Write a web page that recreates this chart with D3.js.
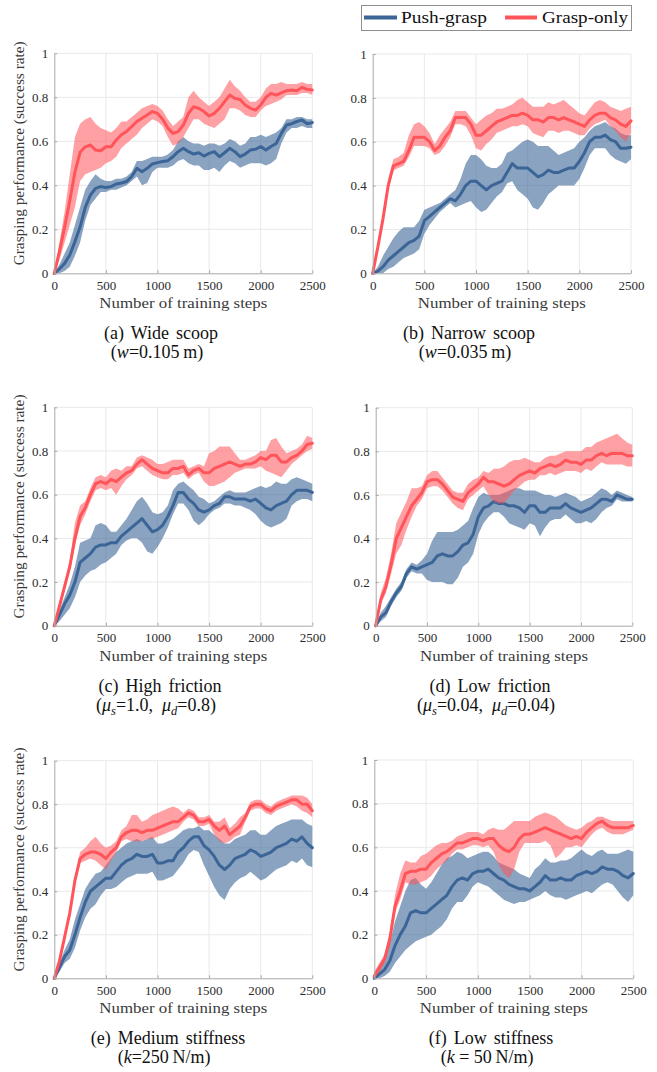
<!DOCTYPE html>
<html>
<head>
<meta charset="utf-8">
<script src="https://cdn.jsdelivr.net/npm/d3@7"></script>
<style>
  body { margin: 0; background: #fff; }
  svg { display: block; }
  text { font-family: "Liberation Serif", "Times New Roman", serif; }
</style>
</head>
<body>
<svg id="fig" width="657" height="1072"></svg>
<script>
// ---- data ---------------------------------------------------------------
// Training steps at which the success rate was sampled (every 50 steps).
const steps = d3.range(0, 2501, 50);
const xTicks = [0, 500, 1000, 1500, 2000, 2500];
const yTicks = [0, 0.2, 0.4, 0.6, 0.8, 1];
const yTickLabels = ["0", "0.2", "0.4", "0.6", "0.8", "1"];
const seriesNames = ["Push-grasp", "Grasp-only"];

// (a) Wide scoop
const aPushMean = [0,0.02,0.045,0.083,0.144,0.21,0.30,0.356,0.386,0.394,0.39,
  0.394,0.406,0.41,0.417,0.44,0.477,0.462,0.477,0.497,0.503,
  0.508,0.512,0.53,0.553,0.568,0.553,0.542,0.548,0.533,0.545,
  0.553,0.53,0.548,0.568,0.553,0.53,0.542,0.56,0.564,0.576,
  0.56,0.576,0.59,0.636,0.674,0.68,0.69,0.697,0.68,0.685];
const aPushLo = [0,0,0.01,0.03,0.08,0.14,0.24,0.31,0.34,0.37,0.37,
  0.38,0.38,0.39,0.40,0.42,0.44,0.40,0.41,0.46,0.48,
  0.48,0.48,0.49,0.51,0.52,0.50,0.49,0.49,0.47,0.47,
  0.48,0.46,0.49,0.51,0.50,0.48,0.49,0.50,0.50,0.50,
  0.49,0.50,0.52,0.59,0.64,0.66,0.66,0.67,0.66,0.66];
const aPushHi = [0,0.04,0.09,0.14,0.22,0.30,0.38,0.42,0.45,0.43,0.42,
  0.42,0.43,0.43,0.44,0.46,0.51,0.51,0.52,0.53,0.53,
  0.53,0.54,0.56,0.60,0.62,0.60,0.59,0.59,0.58,0.59,
  0.59,0.58,0.59,0.61,0.60,0.58,0.59,0.62,0.62,0.63,
  0.62,0.63,0.64,0.66,0.70,0.70,0.71,0.71,0.70,0.70];
const aGraspMean = [0,0.10,0.21,0.33,0.46,0.55,0.575,0.583,0.56,0.557,0.575,
  0.575,0.606,0.63,0.645,0.667,0.69,0.705,0.72,0.735,0.727,
  0.70,0.66,0.636,0.644,0.674,0.727,0.757,0.75,0.735,0.715,
  0.727,0.75,0.78,0.81,0.795,0.79,0.765,0.75,0.742,0.765,
  0.80,0.818,0.81,0.82,0.83,0.833,0.83,0.845,0.836,0.833];
const aGraspLo = [0,0.06,0.14,0.22,0.30,0.42,0.45,0.46,0.47,0.48,0.50,
  0.51,0.53,0.57,0.59,0.61,0.63,0.66,0.68,0.70,0.69,
  0.67,0.62,0.58,0.59,0.62,0.66,0.70,0.70,0.68,0.67,
  0.66,0.68,0.70,0.75,0.75,0.74,0.72,0.71,0.71,0.74,
  0.76,0.77,0.78,0.79,0.81,0.81,0.81,0.82,0.82,0.81];
const aGraspHi = [0,0.14,0.28,0.45,0.62,0.68,0.70,0.71,0.68,0.66,0.65,
  0.64,0.66,0.69,0.69,0.71,0.73,0.75,0.76,0.77,0.76,
  0.74,0.70,0.67,0.69,0.71,0.80,0.83,0.80,0.78,0.76,
  0.78,0.80,0.84,0.88,0.85,0.83,0.80,0.78,0.78,0.80,
  0.84,0.86,0.86,0.87,0.86,0.86,0.86,0.87,0.86,0.86];

// (b) Narrow scoop
const bPushMean = [0,0.01,0.03,0.06,0.08,0.10,0.12,0.14,0.15,0.17,0.24,
  0.26,0.28,0.30,0.32,0.34,0.33,0.36,0.40,0.42,0.42,
  0.40,0.38,0.40,0.41,0.42,0.46,0.50,0.48,0.48,0.48,
  0.46,0.44,0.45,0.47,0.46,0.46,0.47,0.48,0.48,0.51,
  0.55,0.60,0.62,0.62,0.63,0.61,0.60,0.57,0.57,0.575];
const bPushLo = [0,0,0,0.02,0.03,0.05,0.07,0.08,0.09,0.11,0.18,
  0.22,0.25,0.28,0.30,0.32,0.30,0.31,0.32,0.33,0.30,
  0.28,0.29,0.32,0.35,0.37,0.41,0.42,0.38,0.36,0.34,
  0.30,0.29,0.32,0.36,0.38,0.40,0.40,0.40,0.40,0.43,
  0.48,0.54,0.57,0.57,0.57,0.54,0.52,0.51,0.50,0.52];
const bPushHi = [0,0.03,0.08,0.12,0.16,0.19,0.21,0.21,0.21,0.24,0.29,
  0.30,0.31,0.32,0.34,0.36,0.38,0.43,0.50,0.54,0.54,
  0.52,0.49,0.48,0.48,0.50,0.55,0.56,0.58,0.60,0.61,
  0.60,0.58,0.58,0.58,0.56,0.54,0.55,0.56,0.57,0.60,
  0.62,0.65,0.67,0.68,0.69,0.67,0.66,0.64,0.63,0.63];
const bGraspMean = [0,0.12,0.25,0.40,0.49,0.50,0.51,0.56,0.62,0.62,0.62,
  0.60,0.56,0.58,0.62,0.65,0.71,0.71,0.71,0.68,0.63,
  0.63,0.65,0.67,0.69,0.70,0.71,0.72,0.72,0.73,0.72,
  0.70,0.70,0.69,0.71,0.71,0.70,0.71,0.70,0.69,0.68,
  0.67,0.70,0.72,0.73,0.73,0.71,0.70,0.68,0.67,0.695];
const bGraspLo = [0,0.10,0.23,0.38,0.47,0.48,0.49,0.53,0.58,0.58,0.58,
  0.57,0.54,0.55,0.58,0.62,0.68,0.68,0.67,0.63,0.57,
  0.56,0.59,0.61,0.64,0.65,0.66,0.67,0.67,0.68,0.67,
  0.64,0.63,0.62,0.65,0.65,0.64,0.65,0.65,0.64,0.63,
  0.63,0.66,0.68,0.69,0.70,0.67,0.65,0.62,0.60,0.64];
const bGraspHi = [0,0.14,0.27,0.43,0.52,0.53,0.55,0.63,0.68,0.69,0.67,
  0.64,0.59,0.63,0.66,0.69,0.74,0.74,0.74,0.71,0.68,
  0.70,0.72,0.73,0.75,0.75,0.76,0.77,0.79,0.80,0.78,
  0.76,0.76,0.76,0.78,0.77,0.78,0.79,0.77,0.75,0.73,
  0.72,0.75,0.78,0.79,0.78,0.76,0.75,0.74,0.75,0.76];

// (c) High friction
const cPushMean = [0,0.05,0.10,0.14,0.20,0.29,0.31,0.33,0.36,0.37,0.37,
  0.38,0.38,0.41,0.43,0.45,0.47,0.49,0.46,0.43,0.44,
  0.46,0.50,0.55,0.61,0.61,0.58,0.56,0.53,0.52,0.53,
  0.55,0.56,0.59,0.59,0.58,0.58,0.58,0.57,0.58,0.56,
  0.54,0.53,0.55,0.56,0.57,0.60,0.62,0.62,0.62,0.61];
const cPushLo = [0,0.02,0.05,0.08,0.13,0.20,0.23,0.25,0.26,0.28,0.29,
  0.31,0.33,0.37,0.39,0.40,0.40,0.38,0.34,0.33,0.36,
  0.40,0.45,0.51,0.56,0.56,0.53,0.48,0.46,0.48,0.51,
  0.53,0.54,0.56,0.56,0.55,0.55,0.54,0.53,0.51,0.48,
  0.46,0.45,0.46,0.47,0.49,0.55,0.57,0.58,0.58,0.57];
const cPushHi = [0,0.07,0.13,0.19,0.27,0.38,0.39,0.40,0.46,0.47,0.46,
  0.43,0.43,0.46,0.49,0.53,0.57,0.59,0.56,0.52,0.51,
  0.52,0.55,0.62,0.65,0.66,0.64,0.62,0.59,0.58,0.56,
  0.57,0.59,0.61,0.62,0.61,0.61,0.61,0.62,0.63,0.64,
  0.63,0.64,0.66,0.65,0.65,0.67,0.68,0.67,0.66,0.65];
const cGraspMean = [0,0.09,0.18,0.27,0.40,0.50,0.54,0.60,0.65,0.66,0.65,
  0.67,0.66,0.68,0.70,0.71,0.74,0.76,0.74,0.72,0.71,
  0.70,0.70,0.72,0.72,0.73,0.69,0.71,0.72,0.70,0.70,
  0.72,0.73,0.74,0.75,0.74,0.73,0.74,0.74,0.75,0.77,
  0.76,0.78,0.78,0.75,0.75,0.77,0.78,0.80,0.83,0.835];
const cGraspLo = [0,0.07,0.16,0.25,0.37,0.46,0.51,0.57,0.62,0.63,0.62,
  0.63,0.60,0.64,0.67,0.69,0.72,0.73,0.71,0.69,0.68,
  0.67,0.67,0.69,0.69,0.70,0.67,0.69,0.70,0.66,0.64,
  0.64,0.65,0.66,0.68,0.70,0.71,0.72,0.72,0.72,0.73,
  0.71,0.70,0.69,0.68,0.71,0.74,0.76,0.78,0.80,0.81];
const cGraspHi = [0,0.11,0.20,0.30,0.47,0.55,0.57,0.63,0.68,0.69,0.68,
  0.71,0.72,0.71,0.73,0.73,0.77,0.78,0.77,0.76,0.74,
  0.74,0.75,0.76,0.76,0.76,0.72,0.73,0.74,0.73,0.79,
  0.80,0.82,0.82,0.82,0.79,0.76,0.76,0.77,0.78,0.80,
  0.80,0.85,0.86,0.82,0.79,0.80,0.81,0.83,0.87,0.86];

// (d) Low friction
const dPushMean = [0,0.04,0.06,0.11,0.15,0.18,0.24,0.27,0.26,0.27,0.28,
  0.29,0.32,0.33,0.32,0.32,0.34,0.37,0.38,0.42,0.50,
  0.54,0.55,0.57,0.56,0.56,0.55,0.55,0.54,0.52,0.55,
  0.55,0.52,0.52,0.54,0.54,0.54,0.56,0.54,0.53,0.52,
  0.53,0.54,0.56,0.58,0.58,0.57,0.60,0.59,0.58,0.58];
const dPushLo = [0,0.02,0.04,0.09,0.13,0.16,0.22,0.25,0.24,0.24,0.21,
  0.20,0.20,0.20,0.19,0.19,0.22,0.27,0.29,0.33,0.42,
  0.47,0.50,0.52,0.52,0.50,0.47,0.46,0.45,0.44,0.47,
  0.46,0.41,0.45,0.48,0.49,0.49,0.51,0.49,0.47,0.47,
  0.48,0.47,0.49,0.52,0.54,0.55,0.58,0.57,0.57,0.57];
const dPushHi = [0,0.06,0.09,0.13,0.17,0.20,0.26,0.29,0.28,0.30,0.33,
  0.39,0.43,0.43,0.43,0.43,0.44,0.46,0.48,0.54,0.59,
  0.61,0.60,0.60,0.60,0.61,0.62,0.63,0.63,0.62,0.62,
  0.62,0.61,0.60,0.60,0.59,0.60,0.61,0.60,0.59,0.57,
  0.58,0.59,0.61,0.63,0.62,0.60,0.62,0.61,0.60,0.59];
const dGraspMean = [0,0.12,0.18,0.28,0.40,0.45,0.50,0.55,0.58,0.61,0.66,
  0.67,0.67,0.65,0.62,0.59,0.58,0.57,0.61,0.63,0.65,
  0.68,0.66,0.66,0.65,0.64,0.65,0.67,0.69,0.70,0.71,
  0.70,0.72,0.73,0.74,0.73,0.74,0.76,0.75,0.75,0.74,
  0.76,0.76,0.78,0.79,0.78,0.79,0.79,0.79,0.78,0.78];
const dGraspLo = [0,0.10,0.15,0.24,0.33,0.37,0.44,0.50,0.55,0.58,0.63,
  0.64,0.64,0.62,0.59,0.56,0.54,0.53,0.58,0.60,0.62,
  0.64,0.60,0.57,0.56,0.56,0.59,0.62,0.64,0.66,0.67,
  0.67,0.69,0.69,0.70,0.69,0.70,0.71,0.71,0.71,0.70,
  0.72,0.71,0.73,0.75,0.74,0.74,0.74,0.74,0.73,0.73];
const dGraspHi = [0,0.15,0.22,0.33,0.47,0.52,0.57,0.63,0.63,0.64,0.69,
  0.71,0.71,0.68,0.65,0.62,0.61,0.61,0.65,0.67,0.68,
  0.71,0.70,0.72,0.72,0.73,0.75,0.76,0.76,0.77,0.76,
  0.75,0.75,0.77,0.78,0.78,0.79,0.80,0.80,0.80,0.80,
  0.82,0.82,0.84,0.85,0.86,0.87,0.88,0.86,0.84,0.83];

// (e) Medium stiffness
const ePushMean = [0,0.05,0.10,0.13,0.20,0.28,0.35,0.40,0.42,0.44,0.46,
  0.46,0.49,0.52,0.54,0.55,0.57,0.56,0.56,0.57,0.53,
  0.53,0.54,0.54,0.58,0.60,0.63,0.65,0.65,0.61,0.59,
  0.56,0.52,0.50,0.52,0.55,0.56,0.57,0.59,0.58,0.56,
  0.57,0.58,0.60,0.61,0.62,0.64,0.63,0.65,0.62,0.60];
const ePushLo = [0,0.03,0.07,0.09,0.14,0.22,0.28,0.32,0.34,0.38,0.41,
  0.41,0.42,0.44,0.46,0.47,0.48,0.48,0.48,0.49,0.45,
  0.45,0.46,0.47,0.50,0.53,0.57,0.59,0.58,0.52,0.47,
  0.42,0.38,0.36,0.41,0.44,0.46,0.47,0.49,0.47,0.45,
  0.46,0.48,0.50,0.51,0.52,0.54,0.53,0.55,0.52,0.51];
const ePushHi = [0,0.07,0.13,0.18,0.27,0.34,0.41,0.45,0.48,0.49,0.52,
  0.55,0.58,0.60,0.62,0.63,0.64,0.63,0.64,0.65,0.62,
  0.62,0.63,0.64,0.66,0.68,0.69,0.69,0.70,0.68,0.68,
  0.66,0.64,0.62,0.62,0.64,0.65,0.66,0.68,0.68,0.66,
  0.66,0.68,0.70,0.71,0.72,0.73,0.73,0.73,0.71,0.70];
const eGraspMean = [0,0.08,0.19,0.30,0.45,0.55,0.57,0.58,0.58,0.57,0.55,
  0.58,0.60,0.65,0.67,0.68,0.68,0.67,0.68,0.68,0.69,
  0.70,0.71,0.72,0.72,0.74,0.76,0.75,0.72,0.72,0.73,
  0.70,0.68,0.70,0.66,0.68,0.70,0.74,0.79,0.80,0.80,
  0.78,0.77,0.79,0.80,0.81,0.82,0.82,0.80,0.80,0.77];
const eGraspLo = [0,0.06,0.17,0.28,0.43,0.53,0.54,0.55,0.54,0.52,0.50,
  0.54,0.58,0.63,0.64,0.63,0.63,0.63,0.64,0.64,0.65,
  0.66,0.67,0.68,0.69,0.72,0.74,0.73,0.70,0.70,0.71,
  0.66,0.63,0.62,0.63,0.65,0.66,0.72,0.77,0.78,0.78,
  0.76,0.75,0.77,0.78,0.79,0.80,0.79,0.77,0.76,0.74];
const eGraspHi = [0,0.10,0.21,0.32,0.47,0.58,0.60,0.63,0.65,0.62,0.60,
  0.61,0.63,0.68,0.70,0.75,0.75,0.72,0.73,0.75,0.76,
  0.77,0.78,0.79,0.78,0.76,0.78,0.77,0.74,0.74,0.75,
  0.72,0.72,0.74,0.69,0.71,0.74,0.76,0.81,0.82,0.82,
  0.80,0.79,0.81,0.82,0.83,0.84,0.84,0.84,0.83,0.80];

// (f) Low stiffness
const fPushMean = [0,0.02,0.04,0.08,0.15,0.20,0.24,0.30,0.31,0.30,0.30,
  0.32,0.34,0.36,0.38,0.42,0.45,0.46,0.45,0.48,0.49,
  0.49,0.50,0.48,0.46,0.45,0.43,0.42,0.41,0.41,0.40,
  0.42,0.44,0.47,0.45,0.45,0.46,0.45,0.45,0.47,0.48,
  0.49,0.48,0.49,0.51,0.50,0.50,0.49,0.47,0.46,0.48];
const fPushLo = [0,0,0.01,0.03,0.07,0.10,0.13,0.15,0.17,0.18,0.19,
  0.20,0.22,0.24,0.27,0.32,0.35,0.35,0.38,0.42,0.44,
  0.43,0.42,0.40,0.38,0.36,0.35,0.34,0.35,0.35,0.36,
  0.37,0.38,0.40,0.38,0.37,0.37,0.36,0.37,0.38,0.39,
  0.40,0.39,0.41,0.43,0.44,0.43,0.40,0.37,0.35,0.38];
const fPushHi = [0.01,0.04,0.08,0.16,0.26,0.33,0.40,0.45,0.46,0.43,0.41,
  0.44,0.48,0.52,0.55,0.56,0.58,0.57,0.55,0.56,0.57,
  0.58,0.58,0.56,0.53,0.52,0.51,0.50,0.48,0.47,0.46,
  0.50,0.52,0.55,0.53,0.53,0.54,0.54,0.55,0.57,0.59,
  0.57,0.56,0.58,0.59,0.57,0.57,0.57,0.58,0.59,0.58];
const fGraspMean = [0.01,0.05,0.09,0.18,0.33,0.40,0.48,0.49,0.49,0.50,0.50,
  0.53,0.55,0.57,0.58,0.60,0.62,0.62,0.63,0.64,0.64,
  0.63,0.64,0.64,0.61,0.59,0.58,0.60,0.64,0.66,0.66,
  0.67,0.68,0.69,0.68,0.67,0.66,0.65,0.64,0.65,0.64,
  0.67,0.69,0.71,0.72,0.70,0.69,0.69,0.69,0.69,0.70];
const fGraspLo = [0,0.03,0.07,0.15,0.30,0.36,0.44,0.43,0.43,0.44,0.45,
  0.47,0.50,0.52,0.54,0.57,0.59,0.59,0.60,0.61,0.61,
  0.60,0.61,0.58,0.52,0.48,0.46,0.50,0.58,0.62,0.62,
  0.62,0.62,0.63,0.61,0.55,0.57,0.60,0.60,0.61,0.60,
  0.63,0.66,0.68,0.69,0.67,0.66,0.66,0.66,0.67,0.68];
const fGraspHi = [0.03,0.07,0.11,0.21,0.38,0.48,0.54,0.53,0.53,0.56,0.57,
  0.59,0.61,0.62,0.62,0.63,0.65,0.66,0.67,0.67,0.67,
  0.66,0.68,0.69,0.68,0.68,0.70,0.72,0.72,0.72,0.72,
  0.74,0.75,0.76,0.75,0.74,0.72,0.70,0.69,0.68,0.69,
  0.71,0.72,0.74,0.74,0.73,0.72,0.72,0.72,0.72,0.72];

// Sub-figure captions; second line is a list of [text, style] runs.
const captionTitles = ["(a) Wide scoop", "(b) Narrow scoop", "(c) High friction",
  "(d) Low friction", "(e) Medium stiffness", "(f) Low stiffness"];
const captionParams = [
  [["("], ["w", "i"], ["=0.105\u2009m)"]],
  [["("], ["w", "i"], ["=0.035\u2009m)"]],
  [["("], ["\u03bc", "i"], ["s", "sub"], ["=1.0,  "], ["\u03bc", "i"], ["d", "sub"], ["=0.8)"]],
  [["("], ["\u03bc", "i"], ["s", "sub"], ["=0.04,  "], ["\u03bc", "i"], ["d", "sub"], ["=0.04)"]],
  [["("], ["k", "i"], ["=250\u2009N/m)"]],
  [["("], ["k", "i"], [" = 50\u2009N/m)"]]
];

// ---- styling & layout ----------------------------------------------------
const pushColor = "#3c6597";
const graspColor = "#ff545a";
const serif = "\"Liberation Serif\", \"Times New Roman\", serif";
const tickColor = "#2b2b2b";
const axisColor = "#a8a8a8";
const gridColor = "#e9e9e9";

const panels = [
  { left: 54.3,  right: 312.3, top: 53.3,  bottom: 273.3, ylab: true,  capX: 161, capY: 339,
    push: [aPushMean, aPushLo, aPushHi], grasp: [aGraspMean, aGraspLo, aGraspHi] },
  { left: 372.7, right: 631,   top: 54,    bottom: 273.3, ylab: false, capX: 469, capY: 339,
    push: [bPushMean, bPushLo, bPushHi], grasp: [bGraspMean, bGraspLo, bGraspHi] },
  { left: 54.3,  right: 312.3, top: 407.3, bottom: 625.7, ylab: true,  capX: 160, capY: 692,
    push: [cPushMean, cPushLo, cPushHi], grasp: [cGraspMean, cGraspLo, cGraspHi] },
  { left: 375.7, right: 632.3, top: 407.7, bottom: 625.7, ylab: false, capX: 490, capY: 692,
    push: [dPushMean, dPushLo, dPushHi], grasp: [dGraspMean, dGraspLo, dGraspHi] },
  { left: 54.3,  right: 312.3, top: 760.7, bottom: 978.3, ylab: true,  capX: 168, capY: 1044,
    push: [ePushMean, ePushLo, ePushHi], grasp: [eGraspMean, eGraspLo, eGraspHi] },
  { left: 374.3, right: 633.3, top: 760,   bottom: 978.3, ylab: false, capX: 491, capY: 1044,
    push: [fPushMean, fPushLo, fPushHi], grasp: [fGraspMean, fGraspLo, fGraspHi] }
];

const svg = d3.select("#fig");
svg.append("rect").attr("width", 657).attr("height", 1072).attr("fill", "#fff");

panels.forEach((p, i) => {
  const x = d3.scaleLinear().domain([0, 2500]).range([p.left, p.right]);
  const y = d3.scaleLinear().domain([0, 1]).range([p.bottom, p.top]);
  const g = svg.append("g");

  // grid
  g.append("g").selectAll("line").data(xTicks.slice(1)).join("line")
    .attr("x1", d => x(d)).attr("x2", d => x(d))
    .attr("y1", p.top).attr("y2", p.bottom)
    .attr("stroke", gridColor).attr("stroke-width", 1);
  g.append("g").selectAll("line").data(yTicks.slice(1)).join("line")
    .attr("x1", p.left).attr("x2", p.right)
    .attr("y1", d => y(d)).attr("y2", d => y(d))
    .attr("stroke", gridColor).attr("stroke-width", 1);

  // shaded spread + mean curve for each method
  [[p.push, pushColor, 0.6], [p.grasp, graspColor, 0.55]].forEach(([s, color, op]) => {
    const [mean, lo, hi] = s;
    const area = d3.area()
      .x((d, k) => x(steps[k]))
      .y0((d, k) => y(lo[k]))
      .y1((d, k) => y(hi[k]));
    g.append("path").datum(mean).attr("d", area)
      .attr("fill", color).attr("fill-opacity", op).attr("stroke", "none");
    const line = d3.line().x((d, k) => x(steps[k])).y(d => y(d));
    g.append("path").datum(mean).attr("d", line)
      .attr("fill", "none").attr("stroke", color).attr("stroke-width", 3)
      .attr("stroke-linejoin", "round").attr("stroke-linecap", "round");
  });

  // axes
  const xAxis = d3.axisBottom(x).tickValues(xTicks).tickFormat(d3.format("d"))
    .tickSizeInner(-3).tickSizeOuter(0).tickPadding(7);
  const yAxis = d3.axisLeft(y).tickValues(yTicks).tickFormat((d, k) => yTickLabels[k])
    .tickSizeInner(-3).tickSizeOuter(0).tickPadding(6);
  [[xAxis, `translate(0,${p.bottom})`], [yAxis, `translate(${p.left},0)`]].forEach(([ax, tr]) => {
    const a = g.append("g").attr("transform", tr).call(ax)
      .attr("font-family", serif).attr("font-size", 13);
    a.select(".domain").attr("stroke", axisColor);
    a.selectAll(".tick line").attr("stroke", axisColor);
    a.selectAll(".tick text").attr("fill", tickColor)
      .style("font-family", serif).style("font-size", "13px");
  });

  // axis titles
  g.append("text")
    .attr("x", (p.left + p.right) / 2).attr("y", p.bottom + 35)
    .attr("text-anchor", "middle").attr("fill", "#3a3a3a")
    .attr("textLength", 168).attr("lengthAdjust", "spacingAndGlyphs")
    .style("font-family", serif).style("font-size", "14.5px")
    .text("Number of training steps");
  if (p.ylab) {
    const cy = (p.top + p.bottom) / 2 - 10;
    g.append("text")
      .attr("transform", `translate(24,${cy}) rotate(-90)`)
      .attr("text-anchor", "middle").attr("fill", "#3a3a3a")
      .attr("textLength", 224).attr("lengthAdjust", "spacingAndGlyphs")
      .style("font-family", serif).style("font-size", "14.5px")
      .text("Grasping performance (success rate)");
  }

  // caption
  g.append("text")
    .attr("x", p.capX).attr("y", p.capY).attr("text-anchor", "middle")
    .attr("fill", "#111").style("font-family", serif).style("font-size", "18px")
    .style("word-spacing", "2.5px")
    .text(captionTitles[i]);
  const t2 = g.append("text")
    .attr("x", p.capX - 4).attr("y", p.capY + 19).attr("text-anchor", "middle")
    .attr("fill", "#111").style("font-family", serif).style("font-size", "18px")
    .style("white-space", "pre");
  let shifted = false;
  captionParams[i].forEach(([txt, st]) => {
    const ts = t2.append("tspan").text(txt);
    if (st === "i") ts.style("font-style", "italic");
    if (st === "sub") {
      ts.style("font-style", "italic").style("font-size", "12.5px").attr("dy", 4);
      shifted = true;
    } else if (shifted) {
      ts.attr("dy", -4);
      shifted = false;
    }
  });
});

// legend
const leg = svg.append("g");
leg.append("rect").attr("x", 361.5).attr("y", 5.5).attr("width", 270).attr("height", 25)
  .attr("fill", "#fff").attr("stroke", "#8f8f8f").attr("stroke-width", 1);
[[364, 397, 401, pushColor], [505, 537, 542, graspColor]].forEach(([x1, x2, tx, c], k) => {
  leg.append("line").attr("x1", x1).attr("x2", x2).attr("y1", 17.5).attr("y2", 17.5)
    .attr("stroke", c).attr("stroke-width", 4);
  leg.append("text").attr("x", tx).attr("y", 22.5).attr("fill", "#111")
    .attr("textLength", 86).attr("lengthAdjust", "spacingAndGlyphs")
    .style("font-family", serif).style("font-size", "16.5px")
    .text(seriesNames[k]);
});
</script>
</body>
</html>
